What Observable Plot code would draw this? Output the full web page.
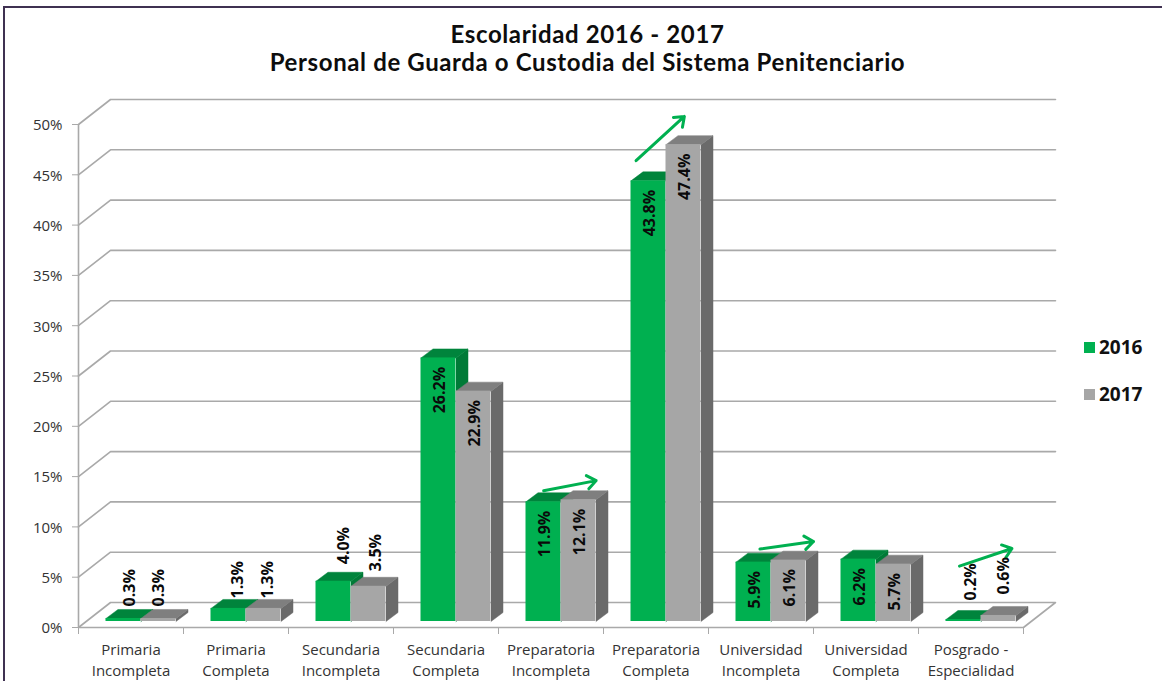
<!DOCTYPE html>
<html lang="es">
<head>
<meta charset="utf-8">
<script src="https://cdn.jsdelivr.net/npm/d3@7"></script>
<script src="https://cdn.jsdelivr.net/npm/@observablehq/plot@0.6"></script>
<style>
html,body{margin:0;padding:0;background:#fff;overflow:hidden;width:1162px;height:681px}
#page{position:absolute;left:3px;top:6px;width:1159px;height:675px;border-left:2px solid #3f3151;border-top:2px solid #3f3151;box-sizing:border-box;overflow:hidden}
#title{height:82px;box-sizing:border-box;padding:11.5px 0 0 8px;text-align:center;font:700 24px/28.9px Lato,sans-serif;color:#0d0d0d;letter-spacing:.62px}
#row{display:flex;align-items:flex-start}
#legend{margin-left:14px;padding-top:247px;font:700 19px/20px "Open Sans",sans-serif;color:#111}
#legend div{display:flex;align-items:center;height:20px;margin-bottom:27px}
#legend i{display:block;width:11px;height:11px;margin-right:4px}
svg{display:block;overflow:visible}
g[aria-label="percent label"] text{letter-spacing:1px}
g[aria-label="category label"] text{letter-spacing:.4px}
</style>
</head>
<body>
<div id="page">
<div id="title">Escolaridad 2016 - 2017<br>Personal de Guarda o Custodia del Sistema Penitenciario</div>
<div id="row"><div id="chart"></div><div id="legend"></div></div>
</div>
<script>
const categories = ["Primaria\nIncompleta","Primaria\nCompleta","Secundaria\nIncompleta","Secundaria\nCompleta","Preparatoria\nIncompleta","Preparatoria\nCompleta","Universidad\nIncompleta","Universidad\nCompleta","Posgrado -\nEspecialidad"];
const values2016 = [0.3,1.3,4.0,26.2,11.9,43.8,5.9,6.2,0.2];
const values2017 = [0.3,1.3,3.5,22.9,12.1,47.4,6.1,5.7,0.6];
const yTicks = [0,5,10,15,20,25,30,35,40,45,50];
const seriesNames = ["2016","2017"];
const frontColors = ["#00b050","#a6a6a6"];
const topColors = ["#00843c","#7f7f7f"];
const sideColors = ["#007a37","#6a6a6a"];
// trend arrows: [category position from, to; percent level from, to]
const arrowX1 = [4.43,5.31,6.49,8.39];
const arrowX2 = [4.93,5.77,7.00,8.89];
const arrowY1 = [13.6,46.4,7.8,6.1];
const arrowY2 = [14.6,50.8,8.55,7.85];

// pixels per data unit of the two scales
const W = 1065, H = 591, mL = 73, mR = 47, mT = 34, mB = 54;
const pxX = (W-mL-mR)/categories.length, pxY = (H-mT-mB)/50;
const ux = p => p/pxX, uy = p => p/pxY;

// the sheared geometry of the 3D chart, in data units
const wallX = ux(32), wallY = uy(25);
const baseX = ux(8), baseY = uy(6);
const depthX = ux(12), depthY = uy(9);
const barStart = ux(19.5), barW = 1/3;
const N = categories.length;

const grid = yTicks.flatMap(t => {
  const pts = [{k:t,x:0,y:t},{k:t,x:wallX,y:t+wallY},{k:t,x:N+wallX,y:t+wallY}];
  if (t===0) pts.push({k:t,x:N,y:0});
  return pts;
});

const bars = [];
categories.forEach((c,i)=>{
  [values2016[i],values2017[i]].forEach((v,s)=>{
    const x1 = i+baseX+barStart+s*barW, x2 = x1+barW;
    bars.push({i,s,v,c,x1,x2,y1:baseY,y2:baseY+v});
  });
});
const polys = [];
bars.forEach((b,n)=>{
  const {x1,x2,y1,y2,s} = b;
  [[x2,y1],[x2+depthX,y1+depthY],[x2+depthX,y2+depthY],[x2,y2]].forEach(p=>polys.push({k:"s"+n,x:p[0],y:p[1],fill:sideColors[s],s}));
  [[x1,y2],[x1+depthX,y2+depthY],[x2+depthX,y2+depthY],[x2,y2]].forEach(p=>polys.push({k:"t"+n,x:p[0],y:p[1],fill:topColors[s],s}));
});

// labels sit inside tall bars and above short ones (offsets in pixels)
const labelLift = {0:[12,12],1:[10,10],2:[17,15],8:[19,21]};
const labelShift = {0:[6,0],1:[9,4],2:[10,7],8:[7,5]};
const labels = bars.map(b=>{
  const out = b.v < 5;
  const lift = out ? labelLift[b.i][b.s] : -9;
  const shift = out ? labelShift[b.i][b.s] : 1;
  return {text:b.v.toFixed(1)+"%",x:(b.x1+b.x2)/2+ux(shift),y:b.y2+uy(lift),anchor:out?"start":"end"};
});
const arrows = arrowX1.map((x,i)=>({x1:x,x2:arrowX2[i],y1:arrowY1[i],y2:arrowY2[i]}));
const gridColor = "#a9a9a9";
const layer = s => [
  Plot.line(polys.filter(d=>d.s===s),{x:"x",y:"y",z:"k",fill:"fill",stroke:"fill",strokeWidth:.5,curve:"linear"}),
  Plot.rect(bars.filter(d=>d.s===s),{x1:"x1",x2:"x2",y1:"y1",y2:"y2",fill:frontColors[s]})
];
const labelFont = {fontSize:16,fontWeight:700,fontFamily:"'Open Sans',sans-serif",fill:"#0a0a0a",rotate:-90,lineAnchor:"middle"};

const plot = Plot.plot({
  width:W,height:H,marginLeft:mL,marginRight:mR,marginTop:mT,marginBottom:mB,
  style:{background:"transparent",overflow:"visible"},
  x:{domain:[0,N]},
  y:{domain:[0,50]},
  marks:[
    Plot.line(grid,{x:"x",y:"y",z:"k",stroke:gridColor,strokeWidth:1.6,curve:"linear"}),
    Plot.ruleX([0],{y1:0,y2:50,stroke:gridColor,strokeWidth:1.6}),
    Plot.ruleY([0],{x1:0,x2:N,stroke:gridColor,strokeWidth:1.6}),
    Plot.axisY({ticks:yTicks,tickFormat:()=>"",tickSize:6,stroke:gridColor,label:null}),
    Plot.axisX({ticks:d3.range(0,N+1),tickFormat:()=>"",tickSize:7,stroke:gridColor,label:null}),
    Plot.text(yTicks,{x:0,y:d=>d,text:d=>d+"%",textAnchor:"end",dx:-16,dy:1,fontSize:15,fill:"#333",fontFamily:"'Open Sans',sans-serif",ariaLabel:"percent label"}),
    Plot.text(categories,{x:(d,i)=>i+.5,y:0,text:d=>d,dy:31,fontSize:15,lineHeight:1.4,fill:"#333",fontFamily:"'Open Sans',sans-serif",ariaLabel:"category label"}),
    ...layer(0),
    ...layer(1),
    Plot.arrow(arrows,{x1:"x1",y1:"y1",x2:"x2",y2:"y2",bend:0,stroke:frontColors[0],strokeWidth:3,headLength:5.5,headAngle:75}),
    Plot.text(labels.filter(d=>d.anchor==="start"),{x:"x",y:"y",text:"text",textAnchor:"start",...labelFont}),
    Plot.text(labels.filter(d=>d.anchor==="end"),{x:"x",y:"y",text:"text",textAnchor:"end",...labelFont})
  ]
});
document.getElementById("chart").append(plot);
const legend = document.getElementById("legend");
seriesNames.forEach((n,s)=>{
  const row = document.createElement("div");
  const sw = document.createElement("i");
  sw.style.background = frontColors[s];
  row.append(sw,document.createTextNode(n));
  legend.append(row);
});
</script>
</body>
</html>
